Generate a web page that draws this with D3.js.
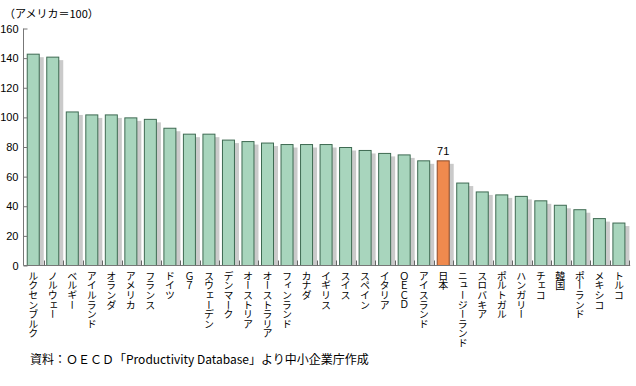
<!DOCTYPE html>
<html>
<head>
<meta charset="utf-8">
<script src="https://cdn.jsdelivr.net/npm/d3@7"></script>
<style>
  body { margin: 0; background: #fff; }
  svg { display: block; }
  text { font-family: "Noto Sans CJK JP", "DejaVu Sans", sans-serif; }
</style>
</head>
<body>
<svg id="chart"></svg>
<script>
var countries = ["ルクセンブルク", "ノルウェー", "ベルギー", "アイルランド", "オランダ", "アメリカ", "フランス", "ドイツ", "Ｇ７", "スウェーデン",
  "デンマーク", "オーストリア", "オーストラリア", "フィンランド", "カナダ", "イギリス", "スイス", "スペイン", "イタリア", "ＯＥＣＤ",
  "アイスランド", "日本", "ニュージーランド", "スロバキア", "ポルトガル", "ハンガリー", "チェコ", "韓国", "ポーランド", "メキシコ", "トルコ"];
var values = [143, 141, 104, 102, 102, 100, 99, 93, 89, 89,
  85, 84, 83, 82, 82, 82, 80, 78, 76, 75,
  71, 71, 56, 50, 48, 47, 44, 41, 38, 32, 29];
var yTicks = [0, 20, 40, 60, 80, 100, 120, 140, 160];
var highlight = "日本";
var unitLabel = "（アメリカ＝100）";
var source = "資料：ＯＥＣＤ「Productivity Database」より中小企業庁作成";

var data = countries.map(function(c, i) { return { name: c, value: values[i] }; });

var svgWidth = 636, svgHeight = 386;
var svg = d3.select("#chart").attr("width", svgWidth).attr("height", svgHeight);

var x = d3.scaleBand().domain(countries).range([24, 629.2]).padding(0);
var y = d3.scaleLinear().domain([0, 160]).range([265.5, 28.5]);
var off = x.bandwidth() * 0.14, bw = 13;

// shadows
svg.append("g").selectAll("rect").data(data).enter().append("rect")
  .attr("x", function(d) { return x(d.name) + off + 4; })
  .attr("y", function(d) { return y(d.value) + 3.5; })
  .attr("width", bw)
  .attr("height", function(d) { return y(0) - y(d.value) - 3.5; })
  .attr("fill", "#cacaca");

// bars
svg.append("g").selectAll("rect").data(data).enter().append("rect")
  .attr("x", function(d) { return x(d.name) + off + 0.5; })
  .attr("y", function(d) { return y(d.value) + 0.5; })
  .attr("width", bw - 1)
  .attr("height", function(d) { return y(0) - y(d.value) - 0.5; })
  .attr("fill", function(d) { return d.name === highlight ? "#f08a4e" : "#a8d5bd"; })
  .attr("stroke", function(d) { return d.name === highlight ? "#8a4a2a" : "#3e6a52"; })
  .attr("stroke-width", 1);

// y axis
var yAxis = svg.append("g")
  .attr("transform", "translate(23.5,0)")
  .call(d3.axisRight(y).tickValues(yTicks).tickSize(4).tickFormat(d3.format("d")));
yAxis.select(".domain").attr("stroke", "#777").attr("d", "M0," + y(160) + "V" + y(0));
yAxis.selectAll(".tick line").attr("stroke", "#777");
yAxis.selectAll(".tick text").attr("x", -5).attr("text-anchor", "end")
  .attr("fill", "#000").style("font-size", "11px").style("font-family", "Liberation Sans, DejaVu Sans, sans-serif");

// x axis line and boundary ticks
var bounds = countries.map(function(c) { return x(c); }).concat([x.range()[1]]);
svg.append("line").attr("x1", 23.5).attr("x2", x.range()[1] + 1)
  .attr("y1", y(0)).attr("y2", y(0)).attr("stroke", "#777");
svg.append("g").selectAll("line").data(bounds.slice(1)).enter().append("line")
  .attr("x1", function(d) { return Math.round(d) + 0.5; })
  .attr("x2", function(d) { return Math.round(d) + 0.5; })
  .attr("y1", y(0) - 5).attr("y2", y(0))
  .attr("stroke", "#666");

// category labels, vertical
svg.append("g").selectAll("text").data(data).enter().append("text")
  .attr("x", function(d) { return x(d.name) + off + bw / 2; })
  .attr("y", 271)
  .style("writing-mode", "vertical-rl")
  .style("text-orientation", "upright")
  .style("font-size", "10px")
  .style("letter-spacing", "-0.4px")
  .attr("fill", "#000")
  .text(function(d) { return d.name; });

// value label for highlighted bar
var hd = data.filter(function(d) { return d.name === highlight; })[0];
svg.append("text")
  .attr("x", x(hd.name) + off + bw / 2)
  .attr("y", y(hd.value) - 5)
  .attr("text-anchor", "middle")
  .style("font-size", "11px")
  .style("font-family", "Liberation Sans, DejaVu Sans, sans-serif")
  .text(hd.value);

// unit label
svg.append("text").attr("x", 4).attr("y", 18)
  .style("font-size", "11px").text(unitLabel);

// source
svg.append("text").attr("x", 30).attr("y", 364)
  .style("font-size", "12px").text(source);
</script>
</body>
</html>
